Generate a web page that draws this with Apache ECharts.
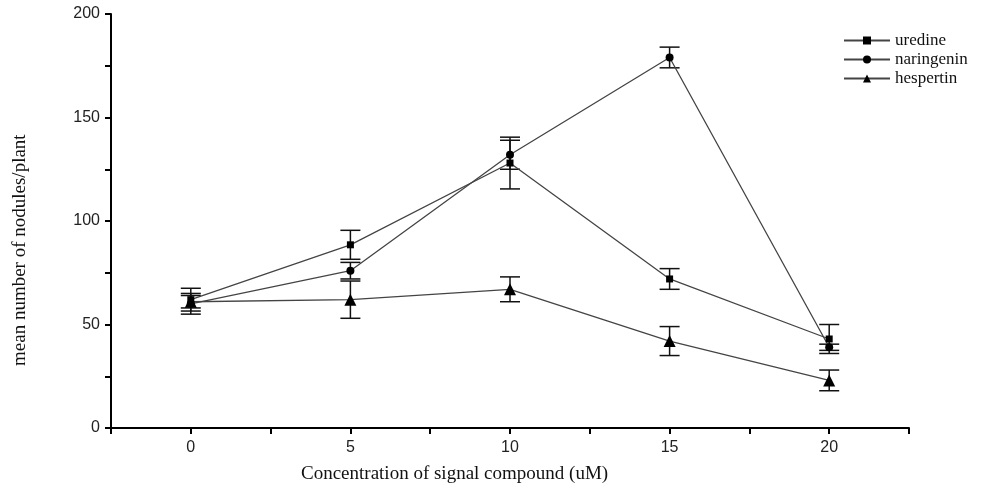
<!DOCTYPE html>
<html>
<head>
<meta charset="utf-8">
<script src="https://cdn.jsdelivr.net/npm/echarts@6/dist/echarts.min.js"></script>
<style>html,body{margin:0;padding:0;background:#fff}#c{width:982px;height:490px}</style>
</head>
<body>
<div id="c"></div>
<script>
const concentrations = [0, 5, 10, 15, 20];
const uredine = [62, 88.5, 128, 72, 43];
const uredineErr = [5.5, 7, 12.5, 5, 7];
const naringenin = [60, 76, 132, 179, 39];
const naringeninErr = [5, 4, 7, 5, 1.5];
const hespertin = [61, 62, 67, 42, 23];
const hespertinErr = [3, 9, 6, 7, 5];
const xTickLabels = ['0', '5', '10', '15', '20'];
const yTickLabels = ['0', '50', '100', '150', '200'];

const chart = echarts.init(document.getElementById('c'));

function pts(vals) { return concentrations.map((x, i) => [x, vals[i]]); }
function errs(vals, e) { return concentrations.map((x, i) => [x, vals[i] - e[i], vals[i] + e[i]]); }

function errorSeries(vals, e) {
  return {
    type: 'custom',
    silent: true,
    z: 5,
    data: errs(vals, e),
    encode: { x: 0, y: [1, 2] },
    renderItem: function (params, api) {
      const x = api.value(0);
      const lo = api.coord([x, api.value(1)]);
      const hi = api.coord([x, api.value(2)]);
      const hw = 10;
      const st = { stroke: '#111', lineWidth: 1.5 };
      return {
        type: 'group',
        children: [
          { type: 'line', shape: { x1: lo[0], y1: lo[1], x2: hi[0], y2: hi[1] }, style: st },
          { type: 'line', shape: { x1: lo[0] - hw, y1: lo[1], x2: lo[0] + hw, y2: lo[1] }, style: st },
          { type: 'line', shape: { x1: hi[0] - hw, y1: hi[1], x2: hi[0] + hw, y2: hi[1] }, style: st }
        ]
      };
    }
  };
}

function lineSeries(name, vals, symbol, size) {
  return {
    name: name,
    type: 'line',
    data: pts(vals),
    symbol: symbol,
    symbolSize: size,
    showAllSymbol: true,
    z: 6,
    lineStyle: { color: '#444', width: 1.3 },
    itemStyle: { color: '#000' },
    emphasis: { disabled: true }
  };
}

chart.setOption({
  animation: false,
  backgroundColor: '#fff',
  grid: { left: 111, right: 73, top: 14, bottom: 62 },
  legend: {
    orient: 'vertical',
    left: 838,
    top: 27,
    itemWidth: 46,
    itemHeight: 10,
    itemGap: 2,
    textStyle: { fontFamily: 'Liberation Serif', fontSize: 17, color: '#111' },
    data: ['uredine', 'naringenin', 'hespertin']
  },
  xAxis: {
    type: 'value',
    min: -2.5,
    max: 22.5,
    interval: 2.5,
    splitLine: { show: false },
    axisLine: { show: true, onZero: false, lineStyle: { color: '#000', width: 2 } },
    axisTick: { show: true, inside: false, length: 6, lineStyle: { color: '#000', width: 2 } },
    axisLabel: {
      margin: 12,
      color: '#222',
      fontFamily: 'Liberation Sans',
      fontSize: 16,
      showMinLabel: true,
      showMaxLabel: true,
      formatter: function (v) {
        const i = concentrations.indexOf(v);
        return i >= 0 ? xTickLabels[i] : '';
      }
    }
  },
  yAxis: {
    type: 'value',
    min: 0,
    max: 200,
    interval: 25,
    splitLine: { show: false },
    axisLine: { show: true, onZero: false, lineStyle: { color: '#000', width: 2 } },
    axisTick: { show: true, length: 6, lineStyle: { color: '#000', width: 2 } },
    axisLabel: {
      margin: 11,
      color: '#222',
      fontFamily: 'Liberation Sans',
      fontSize: 16,
      formatter: function (v) {
        if (v % 50 !== 0) return '';
        return yTickLabels[v / 50];
      }
    }
  },
  graphic: [
    {
      type: 'text',
      left: 301,
      top: 465,
      style: { text: 'Concentration of signal compound (uM)', fontFamily: 'Liberation Serif', fontSize: 19, fill: '#111' }
    },
    {
      type: 'text',
      x: 11,
      y: 366,
      rotation: Math.PI / 2,
      style: { text: 'mean number of nodules/plant', fontFamily: 'Liberation Serif', fontSize: 19, fill: '#111' }
    }
  ],
  series: [
    errorSeries(uredine, uredineErr),
    errorSeries(naringenin, naringeninErr),
    errorSeries(hespertin, hespertinErr),
    lineSeries('uredine', uredine, 'rect', 7),
    lineSeries('naringenin', naringenin, 'circle', 8),
    lineSeries('hespertin', hespertin, 'triangle', 12)
  ]
});
</script>
</body>
</html>
